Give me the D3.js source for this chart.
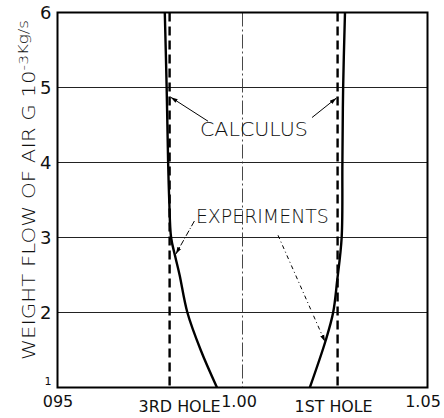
<!DOCTYPE html>
<html>
<head>
<meta charset="utf-8">
<script src="https://cdn.jsdelivr.net/npm/d3@7"></script>
<style>
  body { margin: 0; background: #fff; }
  svg text { font-family: "DejaVu Sans", sans-serif; fill: #111; }
</style>
</head>
<body>
<div id="chart"></div>
<script>
// values
const xTicks = [0.95, 1.00, 1.05];
const xTickLabels = ["095", "1.00", "1.05"];
const yTicks = [1, 2, 3, 4, 5, 6];
const holes = [0.9803, 1.0257];              // calculus, dashed
const holeLabels = ["3RD HOLE", "1ST HOLE"];
const exp3rd = [
    {x: 0.9931, y: 1}, {x: 0.9887, y: 1.5}, {x: 0.9851, y: 2},
    {x: 0.9830, y: 2.5}, {x: 0.9818, y: 2.75}, {x: 0.9807, y: 3},
    {x: 0.9802, y: 3.5}, {x: 0.9799, y: 4},
    {x: 0.9795, y: 5}, {x: 0.9790, y: 6}
];
const exp1st = [
    {x: 1.0182, y: 1}, {x: 1.0225, y: 1.63}, {x: 1.0245, y: 2},
    {x: 1.0256, y: 2.43}, {x: 1.0268, y: 3}, {x: 1.0270, y: 4},
    {x: 1.0272, y: 5}, {x: 1.0277, y: 6}
];

const W = 444, H = 418;
const margin = {top: 12.5, right: 16.5, bottom: 30.5, left: 57.5};
const iw = W - margin.left - margin.right, ih = H - margin.top - margin.bottom;

const svg = d3.select("#chart").append("svg")
    .attr("width", W).attr("height", H);
const g = svg.append("g").attr("transform", `translate(${margin.left},${margin.top})`);

const x = d3.scaleLinear().domain([0.95, 1.05]).range([0, iw]);
const y = d3.scaleLinear().domain([1, 6]).range([ih, 0]);

// grid
g.selectAll(".hgrid").data([2, 3, 4, 5]).enter().append("line")
    .attr("class", "hgrid")
    .attr("x1", 0).attr("x2", iw)
    .attr("y1", d => y(d)).attr("y2", d => y(d))
    .attr("stroke", "#222").attr("stroke-width", 1.2);
g.append("line")
    .attr("x1", x(1.00)).attr("x2", x(1.00))
    .attr("y1", 0).attr("y2", ih)
    .attr("stroke", "#333").attr("stroke-width", 0.9)
    .attr("stroke-dasharray", "14,3,2,3");

// calculus (dashed)
g.selectAll(".hole").data(holes).enter().append("line")
    .attr("class", "hole")
    .attr("x1", d => x(d)).attr("x2", d => x(d))
    .attr("y1", 0).attr("y2", ih)
    .attr("stroke", "#000").attr("stroke-width", 2.4)
    .attr("stroke-dasharray", "9,5");

// experiments (solid)
const line = d3.line().x(d => x(d.x)).y(d => y(d.y)).curve(d3.curveCatmullRom.alpha(0.5));
[exp3rd, exp1st].forEach(s => {
    g.append("path").datum(s).attr("d", line)
        .attr("fill", "none").attr("stroke", "#000").attr("stroke-width", 2.4);
});

// frame
g.append("rect").attr("width", iw).attr("height", ih)
    .attr("fill", "none").attr("stroke", "#000").attr("stroke-width", 2);

// annotations
svg.append("defs").append("marker")
    .attr("id", "arr").attr("viewBox", "0 0 10 10")
    .attr("refX", 10).attr("refY", 5)
    .attr("markerWidth", 7).attr("markerHeight", 7)
    .attr("orient", "auto")
    .append("path").attr("d", "M0,2 L10,5 L0,8 Z").attr("fill", "#000");

function leader(x1, y1, x2, y2, dash) {
    g.append("line")
        .attr("x1", x(x1)).attr("y1", y(y1))
        .attr("x2", x(x2)).attr("y2", y(y2))
        .attr("stroke", "#000").attr("stroke-width", 1)
        .attr("stroke-dasharray", dash || null)
        .attr("marker-end", "url(#arr)");
}
leader(0.9907, 4.55, 0.9806, 4.87);
leader(1.0188, 4.60, 1.0254, 4.86);
leader(0.9870, 3.22, 0.9820, 2.78, "6,2,1,2");
leader(1.0096, 3.03, 1.0223, 1.61, "4,3,1,3");

g.append("text")
    .attr("x", x(0.9885)).attr("y", y(4.35))
    .attr("font-size", 20).attr("textLength", 108).attr("lengthAdjust", "spacingAndGlyphs")
    .attr("font-weight", 300)
    .text("CALCULUS");
g.append("text")
    .attr("x", x(0.9874)).attr("y", y(3.19))
    .attr("font-size", 20).attr("textLength", 133).attr("lengthAdjust", "spacingAndGlyphs")
    .attr("font-weight", 300)
    .text("EXPERIMENTS");

// y axis
const yAxis = g.append("g").call(d3.axisLeft(y).tickValues(yTicks).tickSize(0).tickPadding(6)
    .tickFormat(d3.format("d")));
yAxis.select(".domain").remove();
yAxis.selectAll("text")
    .attr("font-size", d => d === 1 ? 11 : 18)
    .attr("dy", d => d === 1 ? "-0.3em" : "0.32em")
    .attr("font-family", "DejaVu Sans, sans-serif")
    .attr("fill", "#111");

// x axis
const xAxis = g.append("g").attr("transform", `translate(0,${ih})`)
    .call(d3.axisBottom(x).tickValues(xTicks).tickSize(0).tickPadding(8)
        .tickFormat((d, i) => xTickLabels[i]));
xAxis.select(".domain").remove();
xAxis.selectAll("text")
    .attr("font-size", 16)
    .attr("font-family", "DejaVu Sans, sans-serif")
    .attr("fill", "#111");
xAxis.selectAll(".tick").filter((d, i) => i === 1).select("text").attr("dx", -4);
xAxis.selectAll(".tick").filter((d, i) => i === 2).select("text").attr("dx", -5);

g.selectAll(".holeLabel").data(holes).enter().append("text")
    .attr("class", "holeLabel")
    .attr("x", (d, i) => x(d) + (i === 0 ? 10 : -4))
    .attr("y", ih + 24)
    .attr("text-anchor", "middle")
    .attr("font-size", 16)
    .attr("textLength", (d, i) => i === 0 ? 82 : 78)
    .attr("lengthAdjust", "spacingAndGlyphs")
    .text((d, i) => holeLabels[i]);

// y title
const yt = svg.append("text")
    .attr("transform", "translate(35,190) rotate(-90)")
    .attr("text-anchor", "middle")
    .attr("font-size", 18)
    .attr("font-weight", 300)
    .attr("textLength", 340).attr("lengthAdjust", "spacingAndGlyphs");
yt.append("tspan").text("WEIGHT FLOW OF AIR  G 10");
yt.append("tspan").attr("dy", -7).attr("font-size", 13).text("-3");
yt.append("tspan").attr("dy", 0).attr("font-size", 14).text("Kg/s");
</script>
</body>
</html>
